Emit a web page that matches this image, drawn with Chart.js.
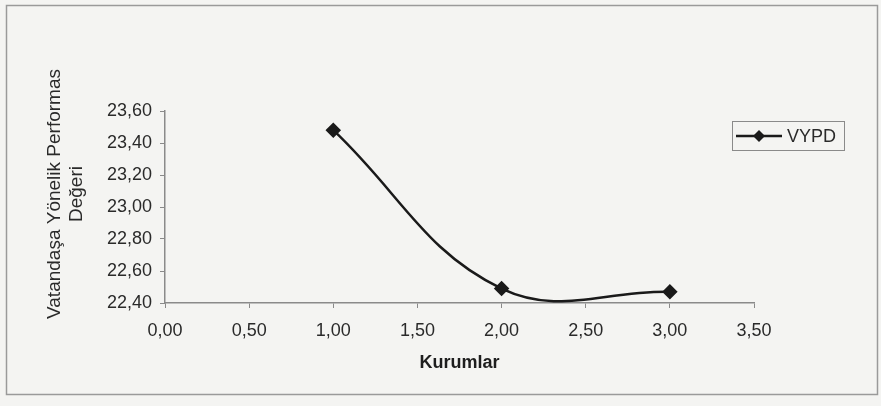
<!DOCTYPE html>
<html>
<head>
<meta charset="utf-8">
<script src="https://cdn.jsdelivr.net/npm/chart.js@4/dist/chart.umd.min.js"></script>
<style>
  html, body { margin: 0; padding: 0; background: #f4f4f2; }
  #wrap { width: 881px; height: 406px; position: relative; }
</style>
</head>
<body>
<div id="wrap"><canvas id="c" width="881" height="406"></canvas></div>
<script>
const seriesLabel = 'VYPD';
const kurumX = [1, 2, 3];
const vypdValues = [23.48, 22.49, 22.47];
const xTitle = 'Kurumlar';
const yTitleLines = ['Vatandaşa Yönelik Performas', 'Değeri'];

const fmt = v => Number(v).toFixed(2).replace('.', ',');
const FONT = '"Liberation Sans", Arial, sans-serif';

const frameAndLegend = {
  id: 'frameAndLegend',
  beforeDraw(chart) {
    const ctx = chart.ctx;
    ctx.save();
    ctx.fillStyle = '#f4f4f2';
    ctx.fillRect(0, 0, chart.width, chart.height);
    ctx.strokeStyle = '#9a9a9a';
    ctx.lineWidth = 1.5;
    ctx.strokeRect(6.5, 5.5, 871, 389);
    ctx.restore();
  },
  afterDraw(chart) {
    const ctx = chart.ctx;
    const ds = chart.data.datasets[0];
    ctx.save();
    // y-axis title (two centred lines, rotated)
    ctx.fillStyle = '#2a2a2a';
    ctx.font = '19px ' + FONT;
    ctx.textAlign = 'center';
    ctx.textBaseline = 'middle';
    ctx.save();
    ctx.translate(55, 194);
    ctx.rotate(-Math.PI / 2);
    ctx.fillText(yTitleLines[0], 0, 0);
    ctx.fillText(yTitleLines[1], 0, 22);
    ctx.restore();
    // legend
    ctx.font = '18px ' + FONT;
    ctx.strokeStyle = '#8a8a8a';
    ctx.lineWidth = 1;
    ctx.strokeRect(732.5, 121.5, 112, 29);
    ctx.strokeStyle = ds.borderColor;
    ctx.lineWidth = ds.borderWidth;
    ctx.beginPath();
    ctx.moveTo(736, 136);
    ctx.lineTo(782, 136);
    ctx.stroke();
    ctx.fillStyle = ds.pointBackgroundColor;
    ctx.beginPath();
    const r = ds.pointRadius;
    ctx.moveTo(759, 136 - r);
    ctx.lineTo(759 + r, 136);
    ctx.lineTo(759, 136 + r);
    ctx.lineTo(759 - r, 136);
    ctx.closePath();
    ctx.fill();
    ctx.fillStyle = '#2a2a2a';
    ctx.textAlign = 'left';
    ctx.fillText(ds.label, 787, 137);
    ctx.restore();
  }
};

new Chart(document.getElementById('c'), {
  type: 'line',
  data: {
    datasets: [{
      label: seriesLabel,
      data: kurumX.map((x, i) => ({ x: x, y: vypdValues[i] })),
      borderColor: '#1a1a1a',
      borderWidth: 2.5,
      pointStyle: 'rectRot',
      pointRadius: 6,
      pointBackgroundColor: '#1a1a1a',
      pointBorderColor: '#1a1a1a',
      tension: 0.4,
      fill: false
    }]
  },
  options: {
    responsive: false,
    animation: false,
    devicePixelRatio: 1,
    layout: { padding: { left: 0, right: 127, top: 111, bottom: 0 } },
    elements: { line: { capBezierPoints: false } },
    plugins: {
      legend: { display: false },
      tooltip: { enabled: false }
    },
    scales: {
      x: {
        type: 'linear',
        min: 0, max: 3.5,
        ticks: {
          stepSize: 0.5,
          callback: v => fmt(v),
          color: '#2a2a2a',
          font: { family: FONT, size: 18 },
          padding: 12,
          maxRotation: 0
        },
        grid: { drawOnChartArea: false, tickLength: 5, color: '#8a8a8a' },
        border: { color: '#8a8a8a', width: 1.5 },
        title: {
          display: true,
          text: xTitle,
          color: '#1e1e1e',
          font: { family: FONT, size: 18, weight: 'bold' },
          padding: { top: 0, bottom: 32 }
        },
        afterFit(scale) { scale.height = 103; }
      },
      y: {
        type: 'linear',
        min: 22.4, max: 23.6,
        ticks: {
          stepSize: 0.2,
          callback: v => fmt(v),
          color: '#2a2a2a',
          font: { family: FONT, size: 18 },
          padding: 8
        },
        grid: { drawOnChartArea: false, tickLength: 5, color: '#8a8a8a' },
        border: { color: '#8a8a8a', width: 1.5 },
        title: { display: false },
        afterFit(scale) { scale.width = 165; }
      }
    }
  },
  plugins: [frameAndLegend]
});
</script>
</body>
</html>
